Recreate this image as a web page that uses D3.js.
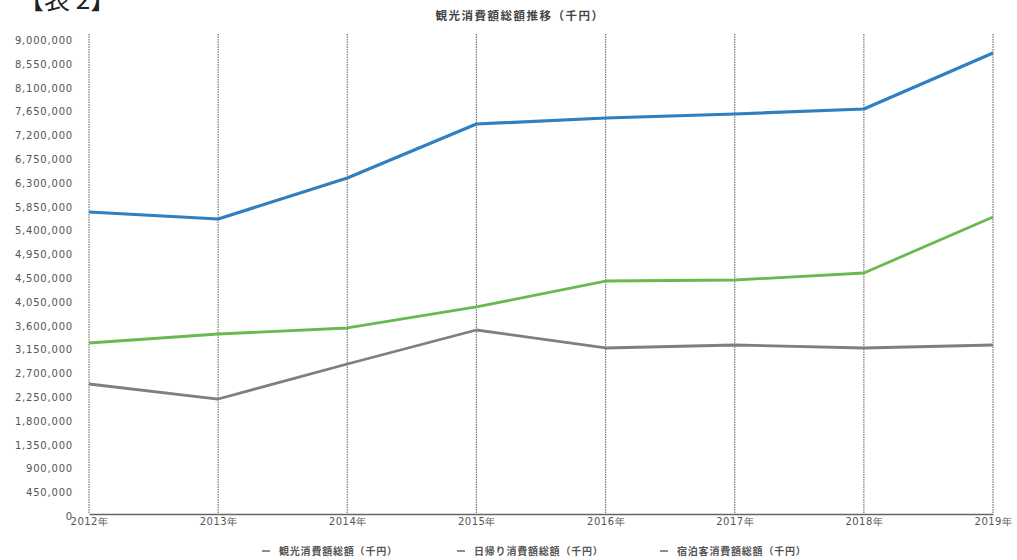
<!DOCTYPE html>
<html><head><meta charset="utf-8">
<script src="https://cdn.jsdelivr.net/npm/d3@7/dist/d3.min.js"></script>
<style>
html,body{margin:0;padding:0;background:#fff;}
svg{display:block;}
</style></head>
<body>
<svg id="chart" width="1017" height="560"></svg>
<script>
const years = ["2012","2013","2014","2015","2016","2017","2018","2019"];
const totalValues = [5710000,5578000,6353000,7374000,7487000,7563000,7658000,8716000];
const dayTripValues = [3233000,3403000,3517000,3914000,4405000,4424000,4557000,5616000];
const overnightValues = [2458000,2174000,2836000,3479000,3139000,3195000,3139000,3195000];
const yTicks = [0,450000,900000,1350000,1800000,2250000,2700000,3150000,3600000,4050000,4500000,4950000,5400000,5850000,6300000,6750000,7200000,7650000,8100000,8550000,9000000];
const seriesNames = ["観光消費額総額（千円）","日帰り消費額総額（千円）","宿泊客消費額総額（千円）"];
const titleText = "観光消費額総額推移（千円）";
const headerText = "【表 2】";

const svg = d3.select("#chart");
const plotLeft = 89, plotRight = 993, plotTop = 38, plotBottom = 514;
const x = d3.scalePoint().domain(years).range([plotLeft, plotRight]);
const y = d3.scaleLinear().domain([0, 9000000]).range([plotBottom, plotTop]);

const series = [
  {name: seriesNames[0], values: totalValues, color: "#2f7fc1", width: 3.2},
  {name: seriesNames[1], values: dayTripValues, color: "#69b94f", width: 2.8},
  {name: seriesNames[2], values: overnightValues, color: "#7f7f7f", width: 2.8}
];

// header
svg.append("text").attr("x", 18).attr("y", 9).attr("font-family", "Noto Sans CJK JP")
  .attr("font-size", 26).attr("fill", "#222").text(headerText);

// title
svg.append("text").attr("x", 520).attr("y", 20).attr("text-anchor", "middle")
  .attr("font-family", "Noto Sans CJK JP").attr("font-size", 11.5).attr("font-weight", "bold")
  .attr("fill", "#444").attr("letter-spacing", 1.5).text(titleText);

// vertical dotted gridlines
svg.append("g").selectAll("line").data(years).join("line")
  .attr("x1", d => x(d)).attr("x2", d => x(d))
  .attr("y1", 34).attr("y2", plotBottom)
  .attr("stroke", "#777").attr("stroke-width", 1.2).attr("stroke-dasharray", "1.5,1");

// y axis
const yAxis = svg.append("g").attr("transform", `translate(${plotLeft},0)`)
  .call(d3.axisLeft(y).tickValues(yTicks).tickSize(0).tickPadding(16).tickFormat(d3.format(",")));
yAxis.select(".domain").remove();
yAxis.selectAll("text").attr("font-family", "DejaVu Sans").attr("font-size", 10)
  .attr("letter-spacing", 0.8).attr("fill", "#555").attr("dy", "0.55em");

// x axis
const xAxis = svg.append("g").attr("transform", `translate(0,${plotBottom})`)
  .call(d3.axisBottom(x).tickSize(0).tickPadding(4).tickFormat(d => d + "年"));
xAxis.select(".domain").attr("stroke", "#666").attr("stroke-width", 1.6);
xAxis.selectAll("text").attr("font-family", "DejaVu Sans").attr("font-size", 10)
  .attr("letter-spacing", 0.5).attr("fill", "#555");

// lines
const line = d3.line().x((d, i) => x(years[i])).y(d => y(d));
svg.append("g").selectAll("path").data(series).join("path")
  .attr("d", d => line(d.values)).attr("fill", "none")
  .attr("stroke", d => d.color).attr("stroke-width", d => d.width)
  .attr("stroke-linejoin", "round");

// legend
const legendX = [262, 457, 660];
const lg = svg.append("g").selectAll("g").data(series).join("g")
  .attr("transform", (d, i) => `translate(${legendX[i]},551)`);
lg.append("line").attr("x1", 0).attr("x2", 8).attr("y1", 0).attr("y2", 0)
  .attr("stroke", "#666").attr("stroke-width", 1.5);
lg.append("text").attr("x", 17).attr("y", 4).attr("font-family", "Noto Sans CJK JP")
  .attr("font-size", 10).attr("font-weight", "bold").attr("letter-spacing", 0.8)
  .attr("fill", "#555").text(d => d.name);
</script>
</body></html>
